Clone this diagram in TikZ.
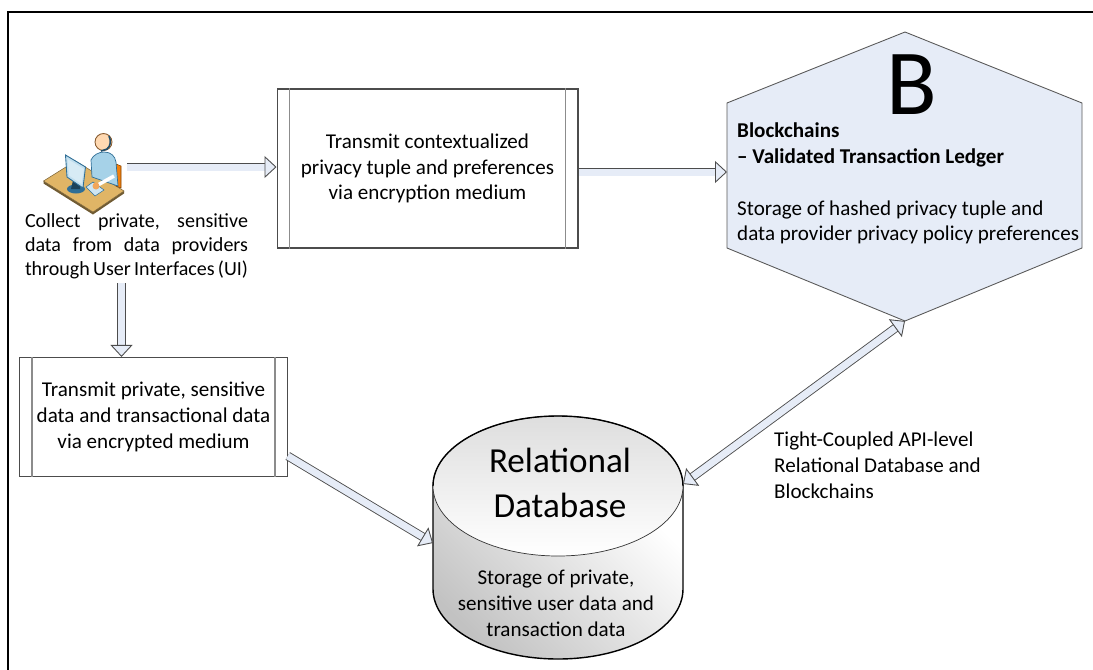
\documentclass[tikz,border=0pt]{standalone}
\usepackage{fontspec}
\setmainfont{Carlito}
\usetikzlibrary{arrows.meta}
\definecolor{blockblue}{HTML}{E6ECF7}
\definecolor{deskfill}{HTML}{E0B566}
\definecolor{skyfill}{HTML}{A6D2E8}
\definecolor{skyedge}{HTML}{2F6E96}
\tikzset{
  procbox/.style={draw=black!70, line width=0.6pt, fill=white, align=center,
    font=\fontsize{12}{14.7}\selectfont},
  note/.style={align=left, font=\fontsize{12}{14.7}\selectfont},
  blockarrow/.style={draw=black!70, double=blockblue, line width=0.5pt, double distance=0.14cm,
    -{Triangle[length=0.24cm, width=0.44cm, fill=blockblue, line width=0.5pt]}},
  twowayarrow/.style={draw=black!70, double=blockblue, line width=0.5pt, double distance=0.14cm,
    {Triangle[length=0.24cm, width=0.44cm, fill=blockblue, line width=0.5pt]}-{Triangle[length=0.24cm, width=0.44cm, fill=blockblue, line width=0.5pt]}}
}
\begin{document}
\begin{tikzpicture}[x=0.02cm, y=-0.02cm]
    \useasboundingbox (0,0) rectangle (1093,670);
    \draw[line width=0.05cm] (8,670) -- (8,12) -- (1093,12);

    % data provider at the desk
    \fill[black!50!deskfill] (43.5,181) -- (93,212) -- (124,191) -- (124,193.5) -- (93,214.5) -- (43.5,183.5) -- cycle;
    \filldraw[fill=deskfill, draw=black!45!deskfill, line width=0.3pt] (43.5,181) -- (75.5,161) -- (124,191) -- (93,212) -- cycle;
    \filldraw[fill=orange!80!brown, draw=orange!50!black, line width=0.3pt] (116,164) -- (121,166) -- (121,188) -- (116,186) -- cycle;
    \filldraw[fill=skyfill, draw=skyedge, line width=0.4pt] (92,177) -- (91,160) .. controls (93,155) and (99,152) .. (104,152)
      .. controls (111,152) and (115,156) .. (116,162) -- (118,186) -- cycle;
    \filldraw[fill=skyfill!55!white, draw=skyedge, line width=0.3pt] (86,187) -- (93,182) -- (104,190) -- (95,196) -- cycle;
    \draw[white, line width=0.07cm] (96,186) -- (114,176);
    \fill[orange!70!brown!70!white] (96,186) circle (3.5);
    \filldraw[fill=orange!30!white, draw=brown!70!black, line width=0.5pt] (103.5,142) circle (8.5);
    \draw[skyedge!70!black, line width=0.9pt] (109,136) .. controls (111,140) and (111,146) .. (107,149) -- (101,151);
    \fill[skyedge] (76,189) ellipse (9 and 4.5);
    \fill[skyedge!60!black] (71,189) -- (75,172) -- (80,174) -- (80,189) -- cycle;
    \filldraw[fill=skyfill!70!white, draw=skyedge, line width=0.5pt] (65.5,155) -- (85.5,167) -- (83,188) -- (67,177) -- cycle;
    \fill[white!55!skyfill] (67.5,159) -- (84,169) -- (81.5,184) -- (69,175.5) -- cycle;

    \node[note, font=\fontsize{11.4}{13.6}\selectfont] (collect) at (136.5,246)
      {\hbox to 4.46cm{Collect\hfill private,\hfill sensitive}\\
       \hbox to 4.46cm{data\hfill from\hfill data\hfill providers}\\
       \hbox to 4.46cm{through User Interfaces (UI)\hfill}};

    % process boxes
    \node[procbox, minimum width=6.02cm, minimum height=3.18cm] (tuple) at (427.5,168.5)
      {Transmit contextualized\\privacy tuple and preferences\\via encryption medium};
    \node[procbox, minimum width=5.35cm, minimum height=2.38cm] (secure) at (153.5,417)
      {Transmit private, sensitive\\data and transactional data\\via encrypted medium};
    \foreach \n in {tuple,secure} {
      \draw[black!45, line width=0.9pt] ([xshift=0.26cm]\n.north west) -- ([xshift=0.26cm]\n.south west);
      \draw[black!45, line width=0.9pt] ([xshift=-0.26cm]\n.north east) -- ([xshift=-0.26cm]\n.south east);
    }

    % ledger
    \filldraw[fill=blockblue, draw=black!65, line width=0.5pt]
      (905,32) -- (1082,103) -- (1082,248) -- (905,321) -- (727,248) -- (727,103) -- cycle;
    \coordinate (ledgertip) at (905,321);
    \coordinate (ledgerleft) at (727,172);
    \node[font=\fontsize{53}{53}\selectfont] (bigb) at (912,85) {B};
    \node[note, anchor=west] (ledger) at (731,183.5)
      {\textbf{Blockchains}\\\textbf{– Validated Transaction Ledger}\\[14.7pt]
       Storage of hashed privacy tuple and\\data provider privacy policy preferences};

    % database
    \shade[bottom color=black!24, top color=white, shading angle=-45, draw=black, line width=0.8pt]
      (433,486) -- (433,589) arc[start angle=180, end angle=360, x radius=125, y radius=-70] -- (683,486) -- cycle;
    \shade[top color=black!13, bottom color=white, draw=black!80, line width=0.4pt]
      (558,486) ellipse (125 and 70);
    \draw[line width=0.8pt] (433,486) arc[start angle=180, end angle=0, x radius=125, y radius=-70];
    \coordinate (dbleft) at (433,543);
    \coordinate (dbright) at (683,484);
    \node[align=center, font=\fontsize{20}{25.5}\selectfont] (dbtitle) at (560,483) {Relational\\Database};
    \node[note, align=center] (dbtext) at (556,603) {Storage of private,\\sensitive user data and\\transaction data};

    \node[note, anchor=west] (coupled) at (768,465) {Tight-Coupled API-level\\Relational Database and\\Blockchains};

    % connectors
    \coordinate (deskout) at (127,167);
    \coordinate (collectout) at (121.5,283);
    \draw[blockarrow] (deskout) -- (tuple.west |- deskout);
    \draw[blockarrow] (tuple.east |- ledgerleft) -- (ledgerleft);
    \draw[blockarrow] (collectout) -- (collectout |- secure.north);
    \draw[blockarrow] ([yshift=-0.78cm]secure.east) -- (dbleft);
    \draw[twowayarrow] (ledgertip) -- (dbright);
\end{tikzpicture}
\end{document}
